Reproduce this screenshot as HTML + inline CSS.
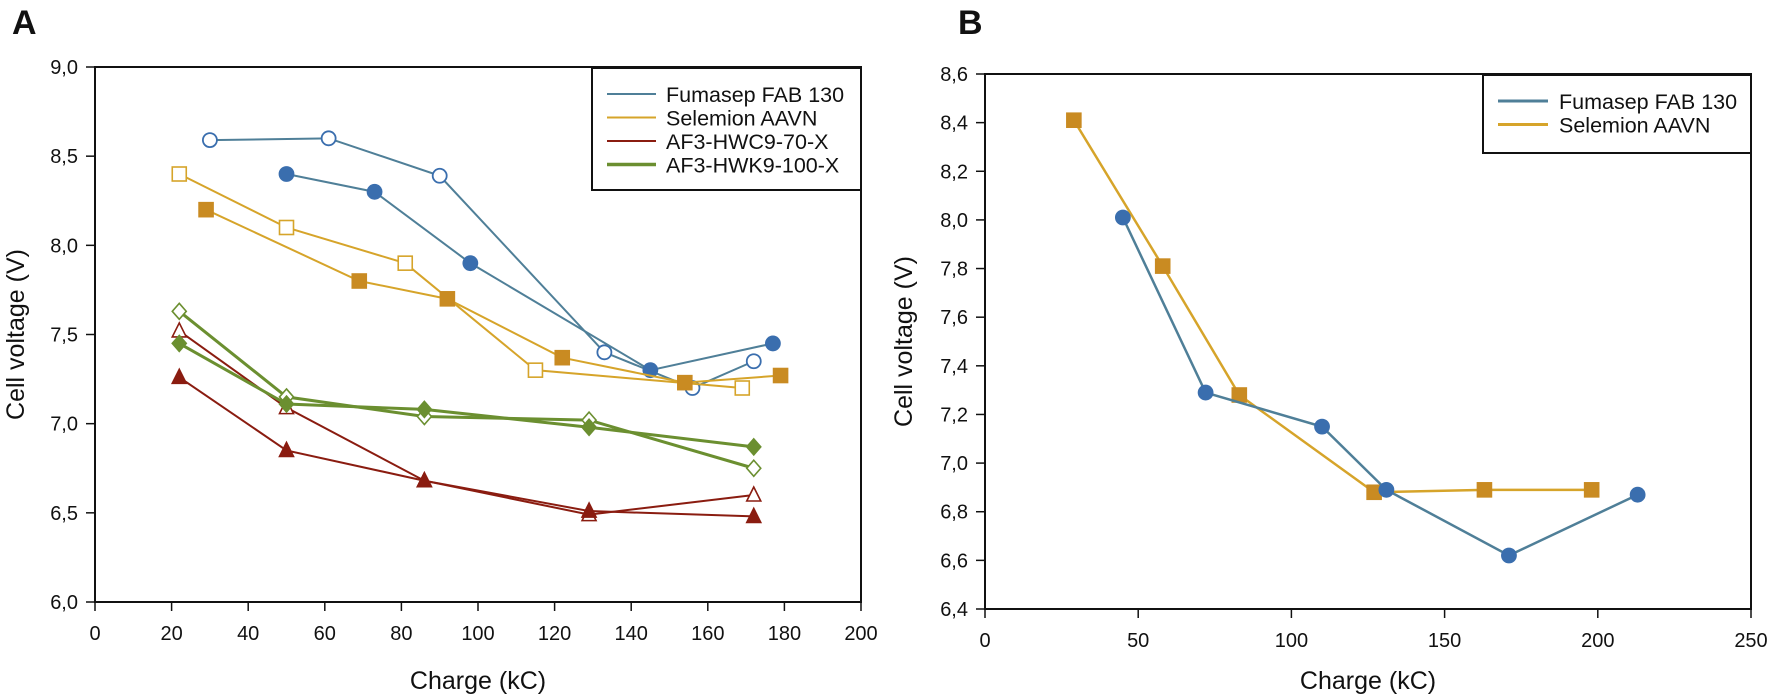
<!DOCTYPE html>
<html><head><meta charset="utf-8"><style>
html,body{margin:0;padding:0;background:#fff}
svg{display:block}
text{font-family:"Liberation Sans",Arial,sans-serif;fill:#111}
.tk{font-size:20px}
.lg{font-size:21.5px}
.tt{font-size:25px}
</style></head><body>
<svg id="s" width="1772" height="700" viewBox="0 0 1772 700">
<text x="12" y="34" style="font-size:34px;font-weight:bold">A</text>
<text x="958" y="34" style="font-size:34px;font-weight:bold">B</text>
</svg>
<script>
// Panel A data
const aFumOpenX=[30,61,90,133,156,172];
const aFumOpenY=[8.59,8.60,8.39,7.40,7.20,7.35];
const aFumFillX=[50,73,98,145,177];
const aFumFillY=[8.40,8.30,7.90,7.30,7.45];
const aSelOpenX=[22,50,81,115,169];
const aSelOpenY=[8.40,8.10,7.90,7.30,7.20];
const aSelFillX=[29,69,92,122,154,179];
const aSelFillY=[8.20,7.80,7.70,7.37,7.23,7.27];
const aHwcOpenX=[22,50,86,129,172];
const aHwcOpenY=[7.52,7.09,6.68,6.49,6.60];
const aHwcFillX=[22,50,86,129,172];
const aHwcFillY=[7.26,6.85,6.68,6.51,6.48];
const aHwkOpenX=[22,50,86,129,172];
const aHwkOpenY=[7.63,7.15,7.04,7.02,6.75];
const aHwkFillX=[22,50,86,129,172];
const aHwkFillY=[7.45,7.11,7.08,6.98,6.87];
const aXTicks=[0,20,40,60,80,100,120,140,160,180,200];
const aYTicks=[6.0,6.5,7.0,7.5,8.0,8.5,9.0];
const aYLabels=["6,0","6,5","7,0","7,5","8,0","8,5","9,0"];
const aLegend=["Fumasep FAB 130","Selemion AAVN","AF3-HWC9-70-X","AF3-HWK9-100-X"];
// Panel B data
const bFumX=[45,72,110,131,171,213];
const bFumY=[8.01,7.29,7.15,6.89,6.62,6.87];
const bSelX=[29,58,83,127,163,198];
const bSelY=[8.41,7.81,7.28,6.88,6.89,6.89];
const bXTicks=[0,50,100,150,200,250];
const bYTicks=[6.4,6.6,6.8,7.0,7.2,7.4,7.6,7.8,8.0,8.2,8.4,8.6];
const bYLabels=["6,4","6,6","6,8","7,0","7,2","7,4","7,6","7,8","8,0","8,2","8,4","8,6"];
const bLegend=["Fumasep FAB 130","Selemion AAVN"];

const NS="http://www.w3.org/2000/svg";
const svg=document.getElementById('s');
function mk(tag,attrs,parent){const e=document.createElementNS(NS,tag);for(const k in attrs)e.setAttribute(k,attrs[k]);(parent||svg).appendChild(e);return e;}
const C={blueL:"#4f7f98",blueM:"#3a6eae",goldL:"#d6a42a",goldM:"#c98b22",red:"#8a1c10",green:"#6b8f30"};

function axes(p,xt,yt,yl,name){
  const g=mk('g',{});
  
  
  mk('rect',{x:p.x0,y:p.y1,width:p.x1-p.x0,height:p.y0-p.y1,fill:'none',stroke:'#111','stroke-width':2},g);
  xt.forEach(v=>{const x=p.sx(v);
    mk('line',{x1:x,x2:x,y1:p.y0,y2:p.y0+9,stroke:'#111','stroke-width':1.5},g);
    const t=mk('text',{x:x,y:p.y0+38,'text-anchor':'middle',class:'tk'},g);t.textContent=v;
    });
  yt.forEach((v,i)=>{const y=p.sy(v);
    mk('line',{x1:p.x0-9,x2:p.x0,y1:y,y2:y,stroke:'#111','stroke-width':1.5},g);
    const t=mk('text',{x:p.x0-17,y:y+7,'text-anchor':'end',class:'tk'},g);t.textContent=yl[i];
    });
  const xt2=mk('text',{x:(p.x0+p.x1)/2,y:689,'text-anchor':'middle',class:'tt'},g);xt2.textContent="Charge (kC)";
  
  const cy=(p.y0+p.y1)/2;
  const yt2=mk('text',{x:p.yx,y:cy,'text-anchor':'middle',class:'tt',transform:`rotate(-90 ${p.yx} ${cy})`},g);yt2.textContent="Cell voltage (V)";
  
}
function marker(g,shape,x,y,col,filled){
  const f=filled?col:'#fff',r=7;
  if(shape==='c')return mk('circle',{cx:x,cy:y,r:r,fill:f,stroke:col,'stroke-width':1.8},g);
  if(shape==='s')return mk('rect',{x:x-7,y:y-7,width:14,height:14,fill:f,stroke:col,'stroke-width':1.6},g);
  if(shape==='t')return mk('polygon',{points:`${x},${y-8} ${x-7},${y+6} ${x+7},${y+6}`,fill:f,stroke:col,'stroke-width':1.6},g);
  if(shape==='d')return mk('polygon',{points:`${x},${y-8} ${x+7},${y} ${x},${y+8} ${x-7},${y}`,fill:f,stroke:col,'stroke-width':1.6},g);
}
function series(p,xs,ys,lc,mc,shape,filled,w,name){
  const g=mk('g',{});
  
  
  mk('polyline',{points:xs.map((v,i)=>p.sx(v)+','+p.sy(ys[i])).join(' '),fill:'none',stroke:lc,'stroke-width':w},g);
  xs.forEach((v,i)=>{const m=marker(g,shape,p.sx(v),p.sy(ys[i]),mc,filled);
    
    });
}
function legend(x,y,w,h,items,cols,ws,lx0,lx1,tx,ry0,name){
  const g=mk('g',{});
  
  
  mk('rect',{x:x,y:y,width:w,height:h,fill:'#fff',stroke:'#111','stroke-width':2},g);
  items.forEach((s,i)=>{const yy=y+ry0+i*23.5;
    mk('line',{x1:x+lx0,x2:x+lx1,y1:yy,y2:yy,stroke:cols[i],'stroke-width':ws[i]},g);
    const t=mk('text',{x:x+tx,y:yy+8,class:'lg'},g);t.textContent=s;
    });
}
// Panel A
const pA={x0:95,x1:861,y0:602,y1:67,yx:24};
pA.sx=v=>pA.x0+(v-0)/200*(pA.x1-pA.x0);
pA.sy=v=>pA.y0-(v-6)/3*(pA.y0-pA.y1);
axes(pA,aXTicks,aYTicks,aYLabels,'panel-a');
series(pA,aFumOpenX,aFumOpenY,C.blueL,C.blueM,'c',false,2,'a-fumasep-open');
series(pA,aFumFillX,aFumFillY,C.blueL,C.blueM,'c',true,2,'a-fumasep-filled');
series(pA,aSelOpenX,aSelOpenY,C.goldL,C.goldL,'s',false,2,'a-selemion-open');
series(pA,aSelFillX,aSelFillY,C.goldL,C.goldM,'s',true,2,'a-selemion-filled');
series(pA,aHwcOpenX,aHwcOpenY,C.red,C.red,'t',false,2,'a-hwc-open');
series(pA,aHwcFillX,aHwcFillY,C.red,C.red,'t',true,2,'a-hwc-filled');
series(pA,aHwkOpenX,aHwkOpenY,C.green,C.green,'d',false,3,'a-hwk-open');
series(pA,aHwkFillX,aHwkFillY,C.green,C.green,'d',true,3,'a-hwk-filled');
legend(592,68,269,122,aLegend,[C.blueL,C.goldL,C.red,C.green],[2,2,2,3.5],15,64,74,26,'panel-a-legend');
// Panel B
const pB={x0:985,x1:1751,y0:609,y1:74,yx:912};
pB.sx=v=>pB.x0+v/250*(pB.x1-pB.x0);
pB.sy=v=>pB.y0-(v-6.4)/2.2*(pB.y0-pB.y1);
axes(pB,bXTicks,bYTicks,bYLabels,'panel-b');
series(pB,bSelX,bSelY,C.goldL,C.goldM,'s',true,2.5,'b-selemion');
series(pB,bFumX,bFumY,C.blueL,C.blueM,'c',true,2.5,'b-fumasep');
legend(1483,75,268,78,bLegend,[C.blueL,C.goldL],[3,3],15,65,76,26,'panel-b-legend');
</script>
</body></html>
